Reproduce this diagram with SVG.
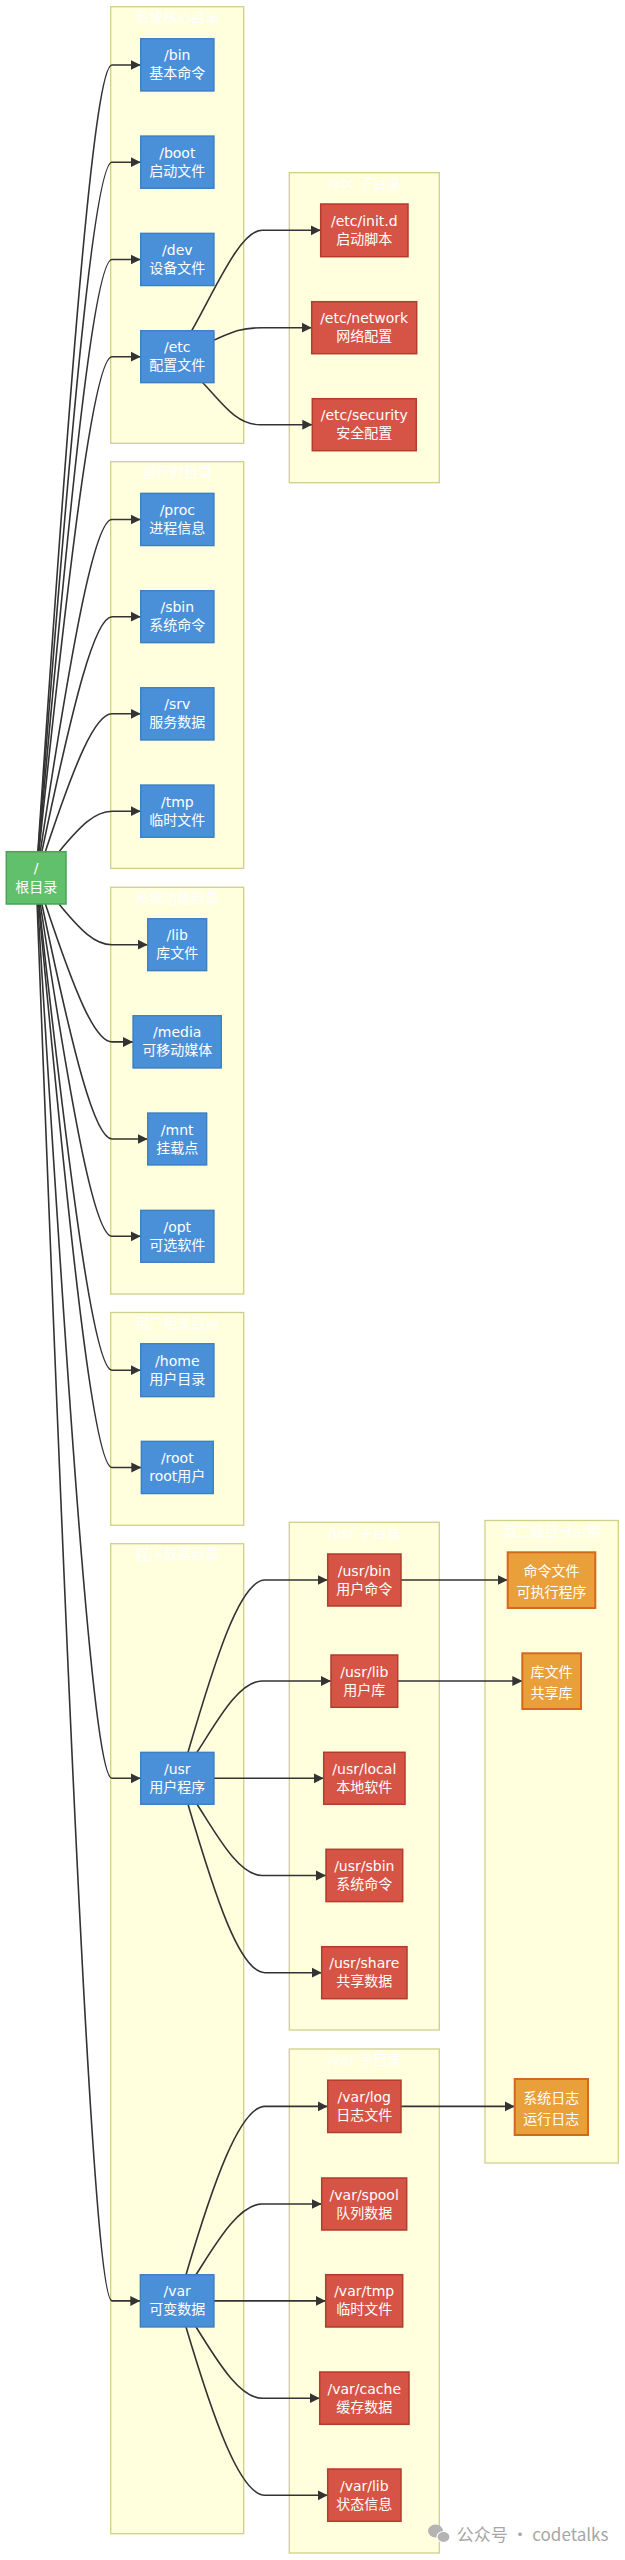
<svg xmlns="http://www.w3.org/2000/svg" width="625" height="2560" viewBox="0 0 625 2560">
<defs>
<marker id="arr" viewBox="0 0 10 10" refX="10" refY="5" markerUnits="userSpaceOnUse" markerWidth="10" markerHeight="11" orient="auto">
<path d="M0,0 L10,5 L0,10 z" fill="#333"/>
</marker>
<style>
.grp{fill:#ffffde;stroke:#cfcf8c;stroke-width:1.3}
.gt{fill:#ffffff;font-size:14px;text-anchor:middle;font-family:"DejaVu Sans","Noto Sans CJK SC",sans-serif}
.blue{fill:#4a90d9;stroke:#3a7cc2;stroke-width:1.3}
.red{fill:#d65445;stroke:#b23c2e;stroke-width:1.5}
.org{fill:#e9a03b;stroke:#d2691e;stroke-width:2}
.green{fill:#60c06c;stroke:#47a555;stroke-width:1.5}
.t{fill:#ffffff;font-size:14px;text-anchor:middle;font-family:"DejaVu Sans","Noto Sans CJK SC",sans-serif}
.e{fill:none;stroke:#333;stroke-width:1.6;marker-end:url(#arr)}
.wm{fill:#a6a6a6;font-size:17px;font-family:"Noto Sans CJK SC",sans-serif}
</style>
</defs>
<rect width="625" height="2560" fill="#ffffff"/>

<g id="clusters">
<g id="g-core"><rect class="grp" x="110.7" y="6.7" width="133" height="436.6"/><text class="gt" x="177.2" y="22.2">系统核心目录</text></g>
<g id="g-etc"><rect class="grp" x="289.3" y="172.7" width="150" height="310"/><text class="gt" x="364.3" y="188.2">/etc 子目录</text></g>
<g id="g-run"><rect class="grp" x="110.7" y="461.7" width="133" height="406.6"/><text class="gt" x="177.2" y="477.2">运行时目录</text></g>
<g id="g-func"><rect class="grp" x="110.7" y="887.3" width="133" height="406.7"/><text class="gt" x="177.2" y="902.8">系统功能目录</text></g>
<g id="g-user"><rect class="grp" x="110.7" y="1312.5" width="133" height="212.8"/><text class="gt" x="177.2" y="1328">用户相关目录</text></g>
<g id="g-prog"><rect class="grp" x="110.7" y="1543.7" width="133" height="990"/><text class="gt" x="177.2" y="1559.2">程序数据目录</text></g>
<g id="g-usr"><rect class="grp" x="289.3" y="1522.3" width="150" height="507.7"/><text class="gt" x="364.3" y="1537.8">/usr 子目录</text></g>
<g id="g-third"><rect class="grp" x="485" y="1520.5" width="133.3" height="642.5"/><text class="gt" x="551.7" y="1536">第三级目录示例</text></g>
<g id="g-var"><rect class="grp" x="289.3" y="2049" width="150" height="504"/><text class="gt" x="364.3" y="2064.5">/var 子目录</text></g>
</g>

<g id="edges">
<path class="e" d="M37.9,851.7 C72.2,340.3 95,65 112,65 L140.7,65"/>
<path class="e" d="M38.1,851.7 C72.2,403.5 95,162.2 112,162.2 L140.7,162.2"/>
<path class="e" d="M38.5,851.7 C72.4,466.8 95,259.5 112,259.5 L140.7,259.5"/>
<path class="e" d="M38.9,851.7 C72.6,530 95,356.7 112,356.7 L140.7,356.7"/>
<path class="e" d="M40.3,851.7 C73.1,635.8 95,519.5 112,519.5 L140.7,519.5"/>
<path class="e" d="M41.9,851.7 C73.8,699 95,616.7 112,616.7 L140.7,616.7"/>
<path class="e" d="M45.3,851.7 C75.1,762.1 95,713.8 112,713.8 L140.7,713.8"/>
<path class="e" d="M59,851.7 C80.6,825.4 95,811.2 112,811.2 L140.7,811.2"/>
<path class="e" d="M59,904 C80.6,930.5 95,944.7 112,944.7 L147.7,944.7"/>
<path class="e" d="M45.4,904 C75.2,993.6 95,1041.9 112,1041.9 L133,1041.9"/>
<path class="e" d="M41.9,904 C73.8,1056.8 95,1139 112,1139 L147.7,1139"/>
<path class="e" d="M40.3,904 C73.1,1120 95,1236.3 112,1236.3 L140.7,1236.3"/>
<path class="e" d="M39.1,904 C72.6,1207 95,1370.2 112,1370.2 L140.7,1370.2"/>
<path class="e" d="M38.6,904 C72.4,1270.3 95,1467.5 112,1467.5 L141.3,1467.5"/>
<path class="e" d="M37.7,904 C72.1,1472.3 95,1778.3 112,1778.3 L140.7,1778.3"/>
<path class="e" d="M37.1,904 C71.8,1812 95,2300.9 112,2300.9 L140.3,2300.9"/>

<path class="e" d="M191.7,330.7 C215,290 240,230.3 262,230.3 L320.7,230.3"/>
<path class="e" d="M214,340 C232,332 240,327.7 262,327.7 L311.7,327.7"/>
<path class="e" d="M202.7,382.7 C220,400 235,424.7 260,424.7 L312.3,424.7"/>

<path class="e" d="M188,1752.3 C215,1660 240,1580 265,1580 L327.7,1580"/>
<path class="e" d="M197,1752.3 C215,1725 238,1681 262,1681 L331,1681"/>
<path class="e" d="M214,1778.3 L323.7,1778.3"/>
<path class="e" d="M197,1804.3 C215,1831.6 238,1875.5 262,1875.5 L326,1875.5"/>
<path class="e" d="M188,1804.3 C215,1896.6 240,1972.7 265,1972.7 L321.7,1972.7"/>

<path class="e" d="M186,2274.7 C213,2183 240,2106.4 265,2106.4 L327.7,2106.4"/>
<path class="e" d="M196,2274.7 C214,2247 238,2204 262,2204 L321.7,2204"/>
<path class="e" d="M214,2300.9 L325.7,2300.9"/>
<path class="e" d="M196,2327 C214,2355 238,2398.2 262,2398.2 L319.7,2398.2"/>
<path class="e" d="M186,2327 C213,2418 240,2495.3 265,2495.3 L327.7,2495.3"/>

<path class="e" d="M401,1580 L507.7,1580"/>
<path class="e" d="M397.7,1681 L522.3,1681"/>
<path class="e" d="M401,2106.4 L514.7,2106.4"/>
</g>

<g id="n-root"><rect class="green" x="6.3" y="851.7" width="59.7" height="52.3"/><text class="t" x="36.2" y="873.4">/</text><text class="t" x="36.2" y="891.6">根目录</text></g>

<g id="n-bin"><rect class="blue" x="140.7" y="38.7" width="73.3" height="52.3"/><text class="t" x="177.3" y="60.4">/bin</text><text class="t" x="177.3" y="78.4">基本命令</text></g>
<g id="n-boot"><rect class="blue" x="140.7" y="136" width="73.3" height="52.3"/><text class="t" x="177.3" y="157.7">/boot</text><text class="t" x="177.3" y="175.7">启动文件</text></g>
<g id="n-dev"><rect class="blue" x="140.7" y="233.3" width="73.3" height="52.3"/><text class="t" x="177.3" y="255">/dev</text><text class="t" x="177.3" y="273">设备文件</text></g>
<g id="n-etc"><rect class="blue" x="140.7" y="330.7" width="73.3" height="52"/><text class="t" x="177.3" y="352.2">/etc</text><text class="t" x="177.3" y="370.2">配置文件</text></g>
<g id="n-proc"><rect class="blue" x="140.7" y="493.3" width="73.3" height="52.3"/><text class="t" x="177.3" y="515">/proc</text><text class="t" x="177.3" y="533">进程信息</text></g>
<g id="n-sbin"><rect class="blue" x="140.7" y="590.7" width="73.3" height="52"/><text class="t" x="177.3" y="612.2">/sbin</text><text class="t" x="177.3" y="630.2">系统命令</text></g>
<g id="n-srv"><rect class="blue" x="140.7" y="687.7" width="73.3" height="52.3"/><text class="t" x="177.3" y="709.3">/srv</text><text class="t" x="177.3" y="727.3">服务数据</text></g>
<g id="n-tmp"><rect class="blue" x="140.7" y="785" width="73.3" height="52.3"/><text class="t" x="177.3" y="806.7">/tmp</text><text class="t" x="177.3" y="824.7">临时文件</text></g>
<g id="n-lib"><rect class="blue" x="147.7" y="918.7" width="59" height="52"/><text class="t" x="177.2" y="940.2">/lib</text><text class="t" x="177.2" y="958.2">库文件</text></g>
<g id="n-media"><rect class="blue" x="133" y="1015.7" width="88.3" height="52.3"/><text class="t" x="177.2" y="1037.4">/media</text><text class="t" x="177.2" y="1055.4">可移动媒体</text></g>
<g id="n-mnt"><rect class="blue" x="147.7" y="1113" width="59" height="52"/><text class="t" x="177.2" y="1134.5">/mnt</text><text class="t" x="177.2" y="1152.5">挂载点</text></g>
<g id="n-opt"><rect class="blue" x="140.7" y="1210.3" width="73.3" height="52"/><text class="t" x="177.3" y="1231.8">/opt</text><text class="t" x="177.3" y="1249.8">可选软件</text></g>
<g id="n-home"><rect class="blue" x="140.7" y="1343.7" width="73.3" height="53"/><text class="t" x="177.3" y="1365.7">/home</text><text class="t" x="177.3" y="1383.7">用户目录</text></g>
<g id="n-rootdir"><rect class="blue" x="141.3" y="1441.3" width="72" height="52.3"/><text class="t" x="177.3" y="1463">/root</text><text class="t" x="177.3" y="1481">root用户</text></g>
<g id="n-usr"><rect class="blue" x="140.7" y="1752.3" width="73.3" height="52"/><text class="t" x="177.3" y="1773.8">/usr</text><text class="t" x="177.3" y="1791.8">用户程序</text></g>
<g id="n-var"><rect class="blue" x="140.3" y="2274.7" width="73.7" height="52.3"/><text class="t" x="177.2" y="2296.4">/var</text><text class="t" x="177.2" y="2314.4">可变数据</text></g>

<g id="n-initd"><rect class="red" x="320.7" y="204" width="87.3" height="52.7"/><text class="t" x="364.3" y="225.8">/etc/init.d</text><text class="t" x="364.3" y="243.8">启动脚本</text></g>
<g id="n-network"><rect class="red" x="311.7" y="301.7" width="105" height="52"/><text class="t" x="364.2" y="323.2">/etc/network</text><text class="t" x="364.2" y="341.2">网络配置</text></g>
<g id="n-security"><rect class="red" x="312.3" y="398.7" width="104" height="52"/><text class="t" x="364.3" y="420.2">/etc/security</text><text class="t" x="364.3" y="438.2">安全配置</text></g>

<g id="n-usrbin"><rect class="red" x="327.7" y="1554" width="73.3" height="52"/><text class="t" x="364.3" y="1575.5">/usr/bin</text><text class="t" x="364.3" y="1593.5">用户命令</text></g>
<g id="n-usrlib"><rect class="red" x="331" y="1655" width="66.7" height="52.3"/><text class="t" x="364.3" y="1676.7">/usr/lib</text><text class="t" x="364.3" y="1694.7">用户库</text></g>
<g id="n-usrlocal"><rect class="red" x="323.7" y="1752.3" width="81.3" height="52"/><text class="t" x="364.3" y="1773.8">/usr/local</text><text class="t" x="364.3" y="1791.8">本地软件</text></g>
<g id="n-usrsbin"><rect class="red" x="326" y="1849.3" width="76.7" height="52.3"/><text class="t" x="364.3" y="1871">/usr/sbin</text><text class="t" x="364.3" y="1889">系统命令</text></g>
<g id="n-usrshare"><rect class="red" x="321.7" y="1946.7" width="85.3" height="52"/><text class="t" x="364.3" y="1968.2">/usr/share</text><text class="t" x="364.3" y="1986.2">共享数据</text></g>

<g id="n-varlog"><rect class="red" x="327.7" y="2080.2" width="73.3" height="52.3"/><text class="t" x="364.3" y="2101.9">/var/log</text><text class="t" x="364.3" y="2119.9">日志文件</text></g>
<g id="n-varspool"><rect class="red" x="321.7" y="2178" width="85" height="52"/><text class="t" x="364.2" y="2199.5">/var/spool</text><text class="t" x="364.2" y="2217.5">队列数据</text></g>
<g id="n-vartmp"><rect class="red" x="325.7" y="2274.7" width="77" height="52.3"/><text class="t" x="364.2" y="2296.4">/var/tmp</text><text class="t" x="364.2" y="2314.4">临时文件</text></g>
<g id="n-varcache"><rect class="red" x="319.7" y="2372" width="89.3" height="52.3"/><text class="t" x="364.3" y="2393.7">/var/cache</text><text class="t" x="364.3" y="2411.7">缓存数据</text></g>
<g id="n-varlib"><rect class="red" x="327.7" y="2469" width="73.3" height="52.3"/><text class="t" x="364.3" y="2490.7">/var/lib</text><text class="t" x="364.3" y="2508.7">状态信息</text></g>

<g id="n-cmdfiles"><rect class="org" x="507.7" y="1552.3" width="87.6" height="55.7"/><text class="t" x="551.5" y="1575.5">命令文件</text><text class="t" x="551.5" y="1596.5">可执行程序</text></g>
<g id="n-libfiles"><rect class="org" x="522.3" y="1653.3" width="58.7" height="55.7"/><text class="t" x="551.6" y="1676.5">库文件</text><text class="t" x="551.6" y="1697.5">共享库</text></g>
<g id="n-logs"><rect class="org" x="514.7" y="2079" width="73.3" height="56"/><text class="t" x="551.3" y="2102.5">系统日志</text><text class="t" x="551.3" y="2123.5">运行日志</text></g>

<g id="watermark">
<ellipse cx="435.5" cy="2531" rx="7.5" ry="6.5" fill="#b4b4b4"/>
<ellipse cx="443.5" cy="2537" rx="6.5" ry="5.5" fill="#b4b4b4" stroke="#ffffff" stroke-width="1.2"/>
<text class="wm" x="456.7" y="2540.5">公众号 · codetalks</text>
</g>
</svg>
